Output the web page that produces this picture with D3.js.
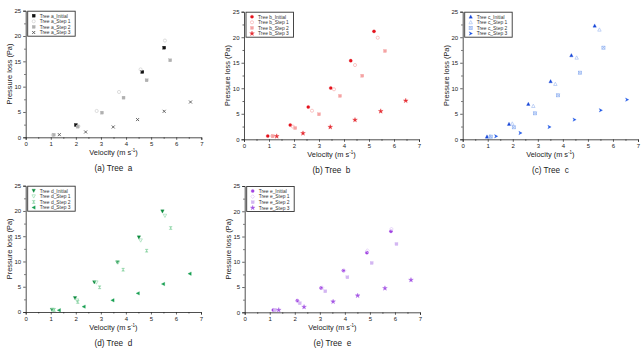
<!DOCTYPE html>
<html><head><meta charset="utf-8">
<script src="https://cdn.jsdelivr.net/npm/d3@7"></script>
<style>body{margin:0;background:#fff}svg{display:block;font-family:"Liberation Sans",Arial,sans-serif}</style>
</head><body><svg id="c" width="643" height="351"></svg>
<script>
// ---- data ----
const xTicks = [0,1,2,3,4,5,6,7];
const yTicks = [0,5,10,15,20,25];
const seriesNames = ["Initial","Step 1","Step 2","Step 3"];
const treeIds = ["a","b","c","d","e"];

const a_initial = [[2.0,2.43],[4.65,12.9],[5.52,17.7]];
const a_step1   = [[1.08,0.46],[2.1,2.2],[2.83,5.2],[3.72,8.95],[4.58,13.4],[5.55,19.1]];
const a_step2   = [[1.12,0.5],[2.07,2.1],[3.04,4.87],[3.9,7.83],[4.82,11.25],[5.76,15.2]];
const a_step3   = [[1.34,0.53],[2.39,1.05],[3.49,2.04],[4.46,3.5],[5.52,5.13],[6.57,6.97]];

const b_initial = [[0.95,0.65],[1.85,2.8],[2.57,6.33],[3.47,10.05],[4.27,15.4],[5.2,21.15]];
const b_step1   = [[1.13,0.65],[1.96,2.48],[2.72,5.6],[3.6,9.8],[4.44,14.55],[5.35,19.9]];
const b_step2   = [[1.15,0.6],[2.05,2.2],[3.0,4.9],[3.84,8.5],[4.73,12.45],[5.64,17.3]];
const b_step3   = [[1.31,0.59],[2.36,1.17],[3.45,2.4],[4.44,3.8],[5.47,5.5],[6.47,7.57]];

const c_initial = [[0.97,0.52],[1.85,3.0],[2.62,6.92],[3.51,11.36],[4.34,16.45],[5.27,22.26]];
const c_step1   = [[1.09,0.59],[1.98,3.07],[2.82,6.53],[3.7,10.84],[4.55,15.99],[5.46,21.48]];
const c_step2   = [[1.12,0.52],[2.04,2.35],[2.89,5.09],[3.81,8.62],[4.68,13.05],[5.62,17.95]];
const c_step3   = [[1.33,0.59],[2.3,1.24],[3.46,2.42],[4.46,3.85],[5.51,5.68],[6.56,7.77]];

const d_initial = [[1.05,0.45],[1.97,2.77],[2.74,5.9],[3.66,9.83],[4.52,14.78],[5.46,19.92]];
const d_step1   = [[1.1,0.42],[2.05,2.3],[2.82,5.87],[3.69,9.83],[4.59,14.18],[5.56,19.06]];
const d_step2   = [[1.14,0.42],[2.08,2.0],[2.95,4.88],[3.89,8.38],[4.83,12.14],[5.79,16.62]];
const d_step3   = [[1.33,0.36],[2.32,1.06],[3.47,2.31],[4.48,3.69],[5.49,5.54],[6.55,7.59]];

const e_initial = [[1.14,0.46],[2.1,2.31],[3.05,4.82],[3.94,8.25],[4.88,11.81],[5.84,16.03]];
const e_step1   = [[1.22,0.46],[2.13,2.18],[3.09,4.88],[3.97,8.25],[4.9,12.2],[5.86,16.49]];
const e_step2   = [[1.21,0.46],[2.2,1.78],[3.22,4.16],[4.1,6.93],[5.07,9.76],[6.06,13.52]];
const e_step3   = [[1.36,0.46],[2.37,1.06],[3.53,2.11],[4.51,3.3],[5.6,4.75],[6.64,6.4]];

const treeData = {
  a:[a_initial,a_step1,a_step2,a_step3],
  b:[b_initial,b_step1,b_step2,b_step3],
  c:[c_initial,c_step1,c_step2,c_step3],
  d:[d_initial,d_step1,d_step2,d_step3],
  e:[e_initial,e_step1,e_step2,e_step3]
};

// ---- layout / style ----
const layout = {
  a:{l:25.7,r:201.3,t:10.7,b:137.3},
  b:{l:244,r:419,t:11.7,b:139.3},
  c:{l:462.7,r:638,t:11.7,b:139.3},
  d:{l:25.7,r:201,t:185.7,b:312},
  e:{l:244.7,r:420,t:186,b:312.3}
};
const colors = {
  a:["#111111","#cfcfcf","#b0b0b0","#555555"],
  b:["#e5121c","#f6b0b0","#f5a3a3","#e52a30"],
  c:["#1747d8","#a9c1f2","#8fb0f0","#1c55e6"],
  d:["#0b8a3c","#9cdcb3","#82d19d","#17a052"],
  e:["#a142e2","#dcc6f6","#d3b6f2","#a455e4"]
};
const markers = {
  a:[["square",1],["circle",0],["square",1],["cross",1]],
  b:[["circle",1],["circle",0],["square",1],["star",1]],
  c:[["triUp",1],["triUp",0],["boxx",0],["triRight",1]],
  d:[["triDown",1],["triDown",0],["hour",1],["triLeft",1]],
  e:[["circle",1],["diamond",0],["square",1],["star",1]]
};

const svg = d3.select("#c");

function drawMarker(g, type, filled, color, x, y){
  const s = 1.5;
  let el;
  const sty = e => e.attr("fill", filled? color : "none").attr("stroke", color).attr("stroke-width", filled?0.3:0.7);
  switch(type){
    case "square": el = g.append("rect").attr("x",x-s).attr("y",y-s).attr("width",2*s).attr("height",2*s); sty(el); break;
    case "circle": el = g.append("circle").attr("cx",x).attr("cy",y).attr("r",s*1.05); sty(el); break;
    case "triUp": el = g.append("path").attr("d",`M${x},${y-s*1.2}L${x+s*1.15},${y+s}L${x-s*1.15},${y+s}Z`); sty(el); break;
    case "triDown": el = g.append("path").attr("d",`M${x},${y+s*1.2}L${x+s*1.15},${y-s}L${x-s*1.15},${y-s}Z`); sty(el); break;
    case "triRight": el = g.append("path").attr("d",`M${x+s*1.2},${y}L${x-s},${y-s*1.15}L${x-s*0.4},${y}L${x-s},${y+s*1.15}Z`); sty(el); break;
    case "triLeft": el = g.append("path").attr("d",`M${x-s*1.2},${y}L${x+s},${y-s*1.15}L${x+s},${y+s*1.15}Z`); sty(el); break;
    case "diamond": el = g.append("path").attr("d",`M${x},${y-s*1.3}L${x+s*1.2},${y}L${x},${y+s*1.3}L${x-s*1.2},${y}Z`); sty(el); break;
    case "cross": g.append("path").attr("d",`M${x-s},${y-s}L${x+s},${y+s}M${x-s},${y+s}L${x+s},${y-s}`).attr("stroke",color).attr("stroke-width",0.9).attr("fill","none"); break;
    case "star": el = g.append("path").attr("d", d3.symbol(d3.symbolStar, 7)()).attr("transform",`translate(${x},${y})`); el.attr("fill",color).attr("stroke",color).attr("stroke-width",0.3); break;
    case "boxx":
      g.append("rect").attr("x",x-s).attr("y",y-s).attr("width",2*s).attr("height",2*s).attr("fill","none").attr("stroke",color).attr("stroke-width",0.7);
      g.append("path").attr("d",`M${x-s},${y-s}L${x+s},${y+s}M${x-s},${y+s}L${x+s},${y-s}`).attr("stroke",color).attr("stroke-width",0.7); break;
    case "hour": el = g.append("path").attr("d",`M${x-s},${y-s}L${x+s},${y-s}L${x-s},${y+s}L${x+s},${y+s}Z`); sty(el); break;
  }
}

treeIds.forEach((id,ti)=>{
  const L = layout[id];
  const x = d3.scaleLinear().domain([0,7]).range([L.l,L.r]);
  const y = d3.scaleLinear().domain([0,25]).range([L.b,L.t]);
  const g = svg.append("g");

  const xa = g.append("g").attr("transform",`translate(0,${L.b})`)
    .call(d3.axisBottom(x).tickValues(xTicks).tickSize(2.5).tickPadding(2).tickFormat(d3.format("d")));
  const xm = g.append("g").attr("transform",`translate(0,${L.b})`)
    .call(d3.axisBottom(x).tickValues(d3.range(0.5,7,1)).tickSize(1.5).tickFormat(""));
  const ya = g.append("g").attr("transform",`translate(${L.l},0)`)
    .call(d3.axisLeft(y).tickValues(yTicks).tickSize(2.5).tickPadding(2).tickFormat(d3.format("d")));
  const ym = g.append("g").attr("transform",`translate(${L.l},0)`)
    .call(d3.axisLeft(y).tickValues(d3.range(2.5,25,5)).tickSize(1.5).tickFormat(""));
  [xa,xm,ya,ym].forEach(a=>{
    a.selectAll("path").attr("stroke","#222").attr("stroke-width",0.8);
    a.selectAll("line").attr("stroke","#222").attr("stroke-width",0.7);
    a.selectAll("text").attr("font-size",6).attr("fill","#222").attr("font-family","Liberation Sans, Arial, sans-serif");
  });
  xm.select(".domain").remove(); ym.select(".domain").remove();

  const cx = (L.l+L.r)/2;
  const xl = g.append("text").attr("x",cx).attr("y",L.b+18).attr("text-anchor","middle").attr("font-size",7.4).attr("fill","#222");
  xl.append("tspan").text("Velocity (m s");
  xl.append("tspan").text("-1").attr("font-size",4.5).attr("dy",-3);
  xl.append("tspan").text(")").attr("dy",3);
  g.append("text").attr("transform",`translate(${L.l-14},${(L.t+L.b)/2}) rotate(-90)`)
    .attr("text-anchor","middle").attr("font-size",7.4).attr("fill","#222").text("Pressure loss (Pa)");
  g.append("text").attr("x",cx).attr("y",L.b+33.5).attr("text-anchor","middle").attr("font-size",8.2).attr("fill","#222")
    .text(`(${id}) Tree\u00a0\u00a0${id}`);

  const pg = g.append("g");
  treeData[id].forEach((ser,si)=>{
    const [type,filled] = markers[id][si];
    ser.forEach(p=> drawMarker(pg,type,filled,colors[id][si],x(p[0]),y(p[1])));
  });

  const lx = L.l+2, ly = L.t+0.5, lw = 47.5, lh = 25;
  const lg = g.append("g");
  lg.append("rect").attr("x",lx).attr("y",ly).attr("width",lw).attr("height",lh)
    .attr("fill","#fff").attr("stroke","#333").attr("stroke-width",0.9);
  seriesNames.forEach((nm,si)=>{
    const yy = ly+4.5+si*5.6;
    const [type,filled] = markers[id][si];
    drawMarker(lg,type,filled,colors[id][si],lx+6,yy);
    const label = si===0 ? `Tree ${id}_Initial` : `Tree ${id}_${nm.replace(" ","\u00a0")}`;
    lg.append("text").attr("x",lx+12).attr("y",yy+1.8).attr("font-size",4.9).attr("fill","#333").text(label);
  });
});
</script></body></html>
